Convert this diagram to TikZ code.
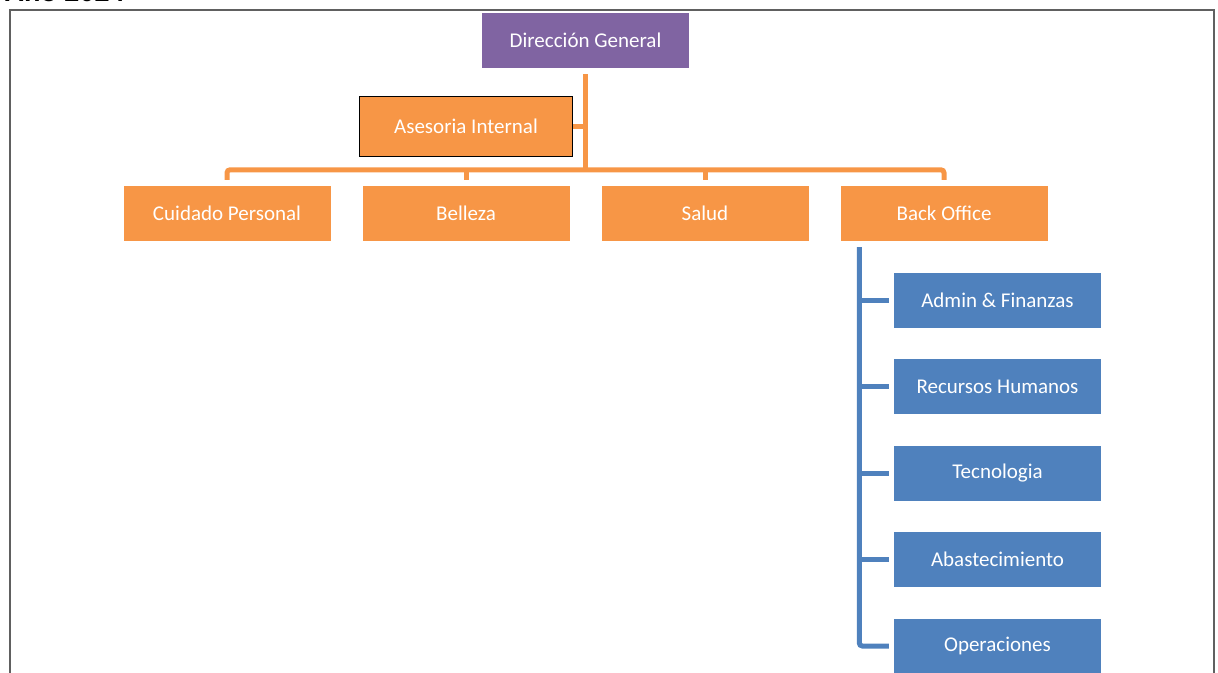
\documentclass[tikz,border=0pt]{standalone}
\usepackage{fontspec}
\setmainfont{Carlito}
\newfontfamily\headfont{Liberation Sans}
\definecolor{orgO}{HTML}{F79646}
\definecolor{orgP}{HTML}{8064A2}
\definecolor{orgB}{HTML}{4F81BD}
\begin{document}
\begin{tikzpicture}[x=1pt,y=-1pt,
  box/.style={rectangle, inner sep=0pt, minimum width=207pt, minimum height=55pt, text=white, font=\fontsize{21}{23}\selectfont},
  obox/.style={box, fill=orgO},
  pbox/.style={box, fill=orgP},
  bbox/.style={box, fill=orgB},
  oline/.style={draw=orgO, line width=5pt, rounded corners=3pt},
  bline/.style={draw=orgB, line width=5pt, rounded corners=3pt}]
\useasboundingbox (0,0) rectangle (1218,672);
\clip (0,0) rectangle (1218,672);
\node[anchor=base west, font=\headfont\bfseries\fontsize{27}{29}\selectfont] (title) at (1,1.5) {Año 2024};
\draw[gray!75!black, line width=1.6pt] (10,10) rectangle (1214,700);
\node[pbox] (dg) at (585.5,40.5) {Dirección General};
\node[obox, draw=black, line width=1pt, minimum width=213pt, minimum height=60pt] (ai) at (466,126.5) {Asesoria Internal};
\node[obox] (cp) at (227,213.5) {Cuidado Personal};
\node[obox] (be) at (466,213.5) {Belleza};
\node[obox] (sa) at (705,213.5) {Salud};
\node[obox] (bo) at (944,213.5) {Back Office};
\node[bbox] (af) at (997.5,300) {Admin \& Finanzas};
\node[bbox] (rh) at (997.5,386.5) {Recursos Humanos};
\node[bbox] (te) at (997.5,473) {Tecnologia};
\node[bbox] (ab) at (997.5,559.5) {Abastecimiento};
\node[bbox] (op) at (997.5,646) {Operaciones};
% orange connectors
\draw[oline] ([yshift=-6pt]dg.south) -- ([yshift=16pt]dg.south |- cp.north);
\draw[oline] (ai.east) -- (ai.east -| dg.south);
\draw[oline] ([yshift=6pt]cp.north) -- ++(0,-10) -| ([yshift=6pt]bo.north);
\draw[oline] ([yshift=6pt]be.north) -- ++(0,-10);
\draw[oline] ([yshift=6pt]sa.north) -- ++(0,-10);
% blue connectors
\draw[bline] ([xshift=19pt,yshift=-6pt]bo.south west) |- ([xshift=-5pt]op.west);
\draw[bline] ([xshift=-5pt]af.west) -- ++(-32,0);
\draw[bline] ([xshift=-5pt]rh.west) -- ++(-32,0);
\draw[bline] ([xshift=-5pt]te.west) -- ++(-32,0);
\draw[bline] ([xshift=-5pt]ab.west) -- ++(-32,0);
\end{tikzpicture}
\end{document}
